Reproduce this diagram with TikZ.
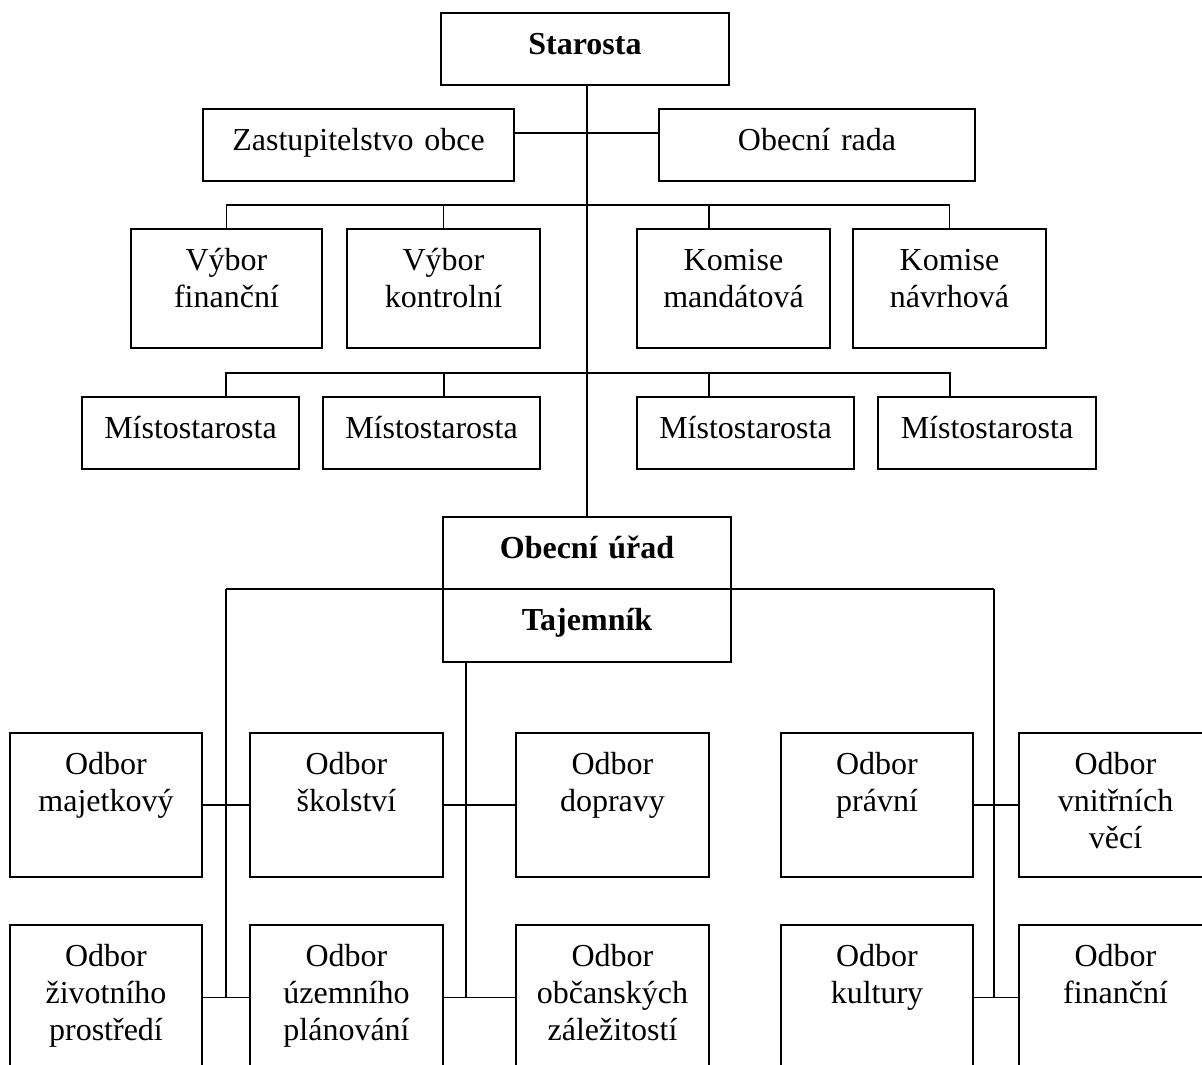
\documentclass[tikz,border=0pt]{standalone}
\usepackage{fontspec}
\setmainfont{Liberation Serif}
\tikzset{
  box/.style={draw, line width=1.3pt, rectangle, anchor=north west, inner sep=0pt, outer sep=0pt,
    align=center, text height=30.75pt, font=\fontsize{24}{27.75}\selectfont},
  hA/.style={text depth=23.25pt},
  hB/.style={text depth=24pt},
  hC/.style={text depth=58.5pt},
  hD/.style={text depth=77.25pt},
  hE/.style={text depth=78pt},
  conn/.style={line width=1.3pt},
}
\begin{document}
\begin{tikzpicture}[x=0.75pt,y=-0.75pt]
\useasboundingbox (0,0) rectangle (1202,1064);
\clip (0,0) rectangle (1202,1064);
% top
\node[box,hA,text width=216pt] (star) at (441,13) {\textbf{Starosta}};
\node[box,hA,text width=233.25pt] (zast) at (203,109) {Zastupitelstvo obce};
\node[box,hA,text width=237pt] (rada) at (659,109) {Obecní rada};
% committees
\node[box,hC,text width=143.25pt] (vf) at (131,229) {Výbor\\finanční};
\node[box,hC,text width=144.75pt] (vk) at (347,229) {Výbor\\kontrolní};
\node[box,hC,text width=144.75pt] (km) at (637,229) {Komise\\mandátová};
\node[box,hC,text width=144.75pt] (kn) at (853,229) {Komise\\návrhová};
% deputies
\node[box,hA,text width=162.75pt] (m1) at (82,397) {Místostarosta};
\node[box,hA,text width=162.75pt] (m2) at (323,397) {Místostarosta};
\node[box,hA,text width=162.75pt] (m3) at (637,397) {Místostarosta};
\node[box,hA,text width=163.5pt] (m4) at (878,397) {Místostarosta};
% office
\node[box,hA,text width=216pt] (ou) at (443,517) {\textbf{Obecní úřad}};
\node[box,hB,text width=216pt] (taj) at (443,589) {\textbf{Tajemník}};
% departments row 1
\node[box,hD,text width=144pt] (o11) at (10,733) {Odbor\\majetkový};
\node[box,hD,text width=144.75pt] (o12) at (250,733) {Odbor\\školství};
\node[box,hD,text width=144.75pt] (o13) at (516,733) {Odbor\\dopravy};
\node[box,hD,text width=144pt] (o14) at (781,733) {Odbor\\právní};
\node[box,hD,text width=144.75pt] (o15) at (1019,733) {Odbor\\vnitřních\\věcí};
% departments row 2
\node[box,hE,text width=144pt] (o21) at (10,925) {Odbor\\životního\\prostředí};
\node[box,hE,text width=144.75pt] (o22) at (250,925) {Odbor\\územního\\plánování};
\node[box,hE,text width=144.75pt] (o23) at (516,925) {Odbor\\občanských\\záležitostí};
\node[box,hE,text width=144pt] (o24) at (781,925) {Odbor\\kultury};
\node[box,hE,text width=144.75pt] (o25) at (1019,925) {Odbor\\finanční};
% connector points
\coordinate (trunk) at (587,85);
\coordinate (kmc) at (709,229);
\coordinate (m1c) at (226,397);
\coordinate (m2c) at (444,397);
\coordinate (m3c) at (709,397);
\coordinate (m4c) at (950,397);
\coordinate (left) at (226,589);
\coordinate (right) at (994,589);
\coordinate (tajc) at (466,662);
% trunk
\draw[conn] (trunk) -- (trunk |- ou.north);
\draw[conn] (zast.east |- 0,133) -- (rada.west |- 0,133);
% committee bus
\draw[conn] (vf.north) -- (vf.north |- 0,205) -- (kn.north |- 0,205) -- (kn.north);
\draw[conn] (vk.north) -- (vk.north |- 0,205);
\draw[conn] (kmc) -- (kmc |- 0,205);
% deputy bus
\draw[conn] (m1c) -- (m1c |- 0,373) -- (m4c |- 0,373) -- (m4c);
\draw[conn] (m2c) -- (m2c |- 0,373);
\draw[conn] (m3c) -- (m3c |- 0,373);
% office lines
\draw[conn] (left) -- (ou.south west);
\draw[conn] (ou.south east) -- (right);
\draw[conn] (left) -- (left |- o21.east);
\draw[conn] (right) -- (right |- o25.west);
\draw[conn] (tajc) -- (tajc |- o23.west);
% department links
\draw[conn] (o11.east) -- (o12.west);
\draw[conn] (o12.east) -- (o13.west);
\draw[conn] (o14.east) -- (o15.west);
\draw[conn] (o21.east) -- (o22.west);
\draw[conn] (o22.east) -- (o23.west);
\draw[conn] (o24.east) -- (o25.west);
\end{tikzpicture}
\end{document}
